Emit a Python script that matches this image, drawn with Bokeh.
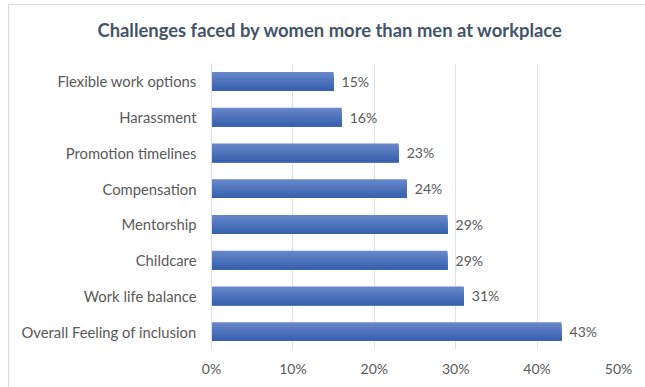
from bokeh.plotting import figure
from bokeh.models import ColumnDataSource, Label, NumeralTickFormatter, FixedTicker
from bokeh.transform import dodge
from bokeh.core.properties import value
from bokeh.embed import file_html
from bokeh.resources import INLINE

categories = ["Overall Feeling of inclusion", "Work life balance", "Childcare", "Mentorship",
              "Compensation", "Promotion timelines", "Harassment", "Flexible work options"]
values = [0.43, 0.31, 0.29, 0.29, 0.24, 0.23, 0.16, 0.15]
labels = ["43%", "31%", "29%", "29%", "24%", "23%", "16%", "15%"]
x_ticks = [0, 0.1, 0.2, 0.3, 0.4, 0.5]
title_text = "Challenges faced by women more than men at workplace"

FONT = "Lato"
TXT = "#595959"

src = ColumnDataSource(dict(cat=categories, val=values, lab=labels))

p = figure(width=636, height=382, y_range=categories, x_range=(0, 0.5),
           output_backend="svg", toolbar_location=None,
           min_border_left=202, min_border_right=27, min_border_top=58, min_border_bottom=38,
           margin=(5, 0, 0, 9), styles={"outline": "1px solid #d9d9d9"})
p.outline_line_color = None
p.background_fill_color = "white"
p.border_fill_color = "white"

# gradient-like bars built from overlapping strips (each extends to the bar bottom)
bar_h = 0.53
n = 8
top_c = (0x66, 0x86, 0xc9)
bot_c = (0x38, 0x61, 0xae)
sh = bar_h / n
for i in range(n):
    t = i / (n - 1)
    c = tuple(int(round(top_c[k] + (bot_c[k] - top_c[k]) * t)) for k in range(3))
    h = bar_h - i * sh
    off = -bar_h / 2 + h / 2
    p.hbar(y=dodge("cat", off, range=p.y_range), right="val", left=0, height=h,
           source=src, fill_color="#%02x%02x%02x" % c, line_color=None)

p.text(x="val", y="cat", text="lab", source=src, x_offset=8,
       text_baseline="middle", text_align="left", text_font=value(FONT),
       text_font_size="14px", text_color=TXT)

p.xaxis.ticker = FixedTicker(ticks=x_ticks)
p.xaxis.formatter = NumeralTickFormatter(format="0%")
p.xaxis.axis_line_color = None
p.xaxis.major_tick_line_color = None
p.xaxis.minor_tick_line_color = None
p.xaxis.major_label_text_font = FONT
p.xaxis.major_label_text_font_size = "14px"
p.xaxis.major_label_text_color = TXT
p.xaxis.major_label_standoff = 4

p.yaxis.axis_line_color = "#d9dfe8"
p.yaxis.major_tick_line_color = None
p.yaxis.minor_tick_line_color = None
p.yaxis.major_label_text_font = FONT
p.yaxis.major_label_text_font_size = "14.8px"
p.yaxis.major_label_text_color = TXT
p.yaxis.major_label_standoff = 9

p.xgrid.grid_line_color = "#dce2eb"
p.ygrid.grid_line_color = None

# title as a label in the panel above the frame
title = Label(x=-114, y=34, x_units="screen", y_units="screen", text=title_text,
              text_font=FONT, text_font_size="18.4px", text_font_style="bold",
              text_color="#44546a", text_baseline="middle", text_align="left")
p.add_layout(title, "above")

open("out.html", "w").write(file_html(p, INLINE))
